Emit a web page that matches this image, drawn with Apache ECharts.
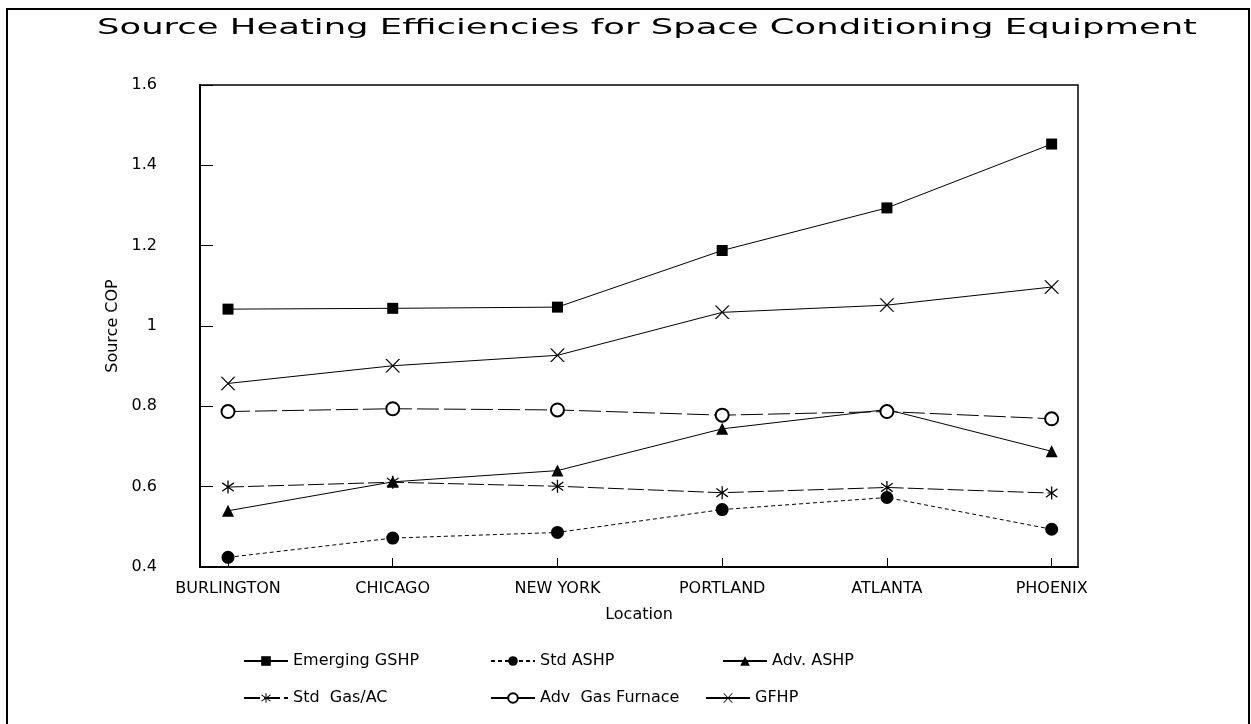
<!DOCTYPE html>
<html>
<head>
<meta charset="utf-8">
<script src="https://cdn.jsdelivr.net/npm/echarts@6/dist/echarts.min.js"></script>
<style>html,body{margin:0;padding:0;background:#fff}#c{width:1251px;height:724px}</style>
</head>
<body>
<div id="c"></div>
<script>
const titleText = 'Source Heating Efficiencies for Space Conditioning Equipment';
const categories = ['BURLINGTON', 'CHICAGO', 'NEW YORK', 'PORTLAND', 'ATLANTA', 'PHOENIX'];
const emergingGSHP = [1.042, 1.044, 1.047, 1.188, 1.294, 1.453];
const stdASHP = [0.424, 0.472, 0.486, 0.543, 0.573, 0.494];
const advASHP = [0.540, 0.612, 0.640, 0.744, 0.792, 0.688];
const stdGasAC = [0.599, 0.611, 0.601, 0.585, 0.598, 0.584];
const advGasFurnace = [0.787, 0.794, 0.791, 0.778, 0.787, 0.769];
const gfhp = [0.857, 0.901, 0.927, 1.034, 1.052, 1.097];
const seriesNames = ['Emerging GSHP', 'Std ASHP', 'Adv. ASHP', 'Std  Gas/AC', 'Adv  Gas Furnace', 'GFHP'];

const FONT = '"DejaVu Sans", sans-serif';
const X_PATH = 'path://M0,0 L2.2,0 L20,18 L17.8,18 Z M17.8,0 L20,0 L2.2,18 L0,18 Z';
const AST_PATH = 'path://M9,0 L11,0 L11,20 L9,20 Z M0.6,4.4 L1.6,2.7 L19.4,15.6 L18.4,17.3 Z M18.4,2.7 L19.4,4.4 L1.6,17.3 L0.6,15.6 Z';

const idx = categories.map((c, i) => i);
function pts(arr) { return arr.map((v, i) => [i, v]); }

const styles = [
  { data: emergingGSHP, symbol: 'rect', size: 11, type: 'solid' },
  { data: stdASHP, symbol: 'circle', size: 13, type: [4, 3] },
  { data: advASHP, symbol: 'triangle', size: 12, type: 'solid' },
  { data: stdGasAC, symbol: AST_PATH, size: 13, type: [16, 4] },
  { data: advGasFurnace, symbol: 'emptyCircle', size: 13, type: [22, 5] },
  { data: gfhp, symbol: X_PATH, size: 15, type: 'solid' }
];

const series = styles.map((s, k) => ({
  name: seriesNames[k],
  type: 'line',
  data: pts(s.data),
  symbol: s.symbol,
  symbolSize: s.size,
  symbolKeepAspect: true,
  showAllSymbol: true,
  lineStyle: { color: '#000', width: 1, type: s.type },
  itemStyle: { color: '#000', borderColor: '#000', borderWidth: s.symbol === 'emptyCircle' ? 1.2 : 0 },
  emphasis: { disabled: true },
  animation: false,
  z: 3
}));

const legendPos = [
  [243, 653], [490, 653], [722, 653],
  [243, 690], [490, 690], [705, 690]
];
const legends = seriesNames.map((n, k) => ({
  data: [n],
  left: legendPos[k][0],
  top: legendPos[k][1],
  padding: 0,
  itemWidth: 44,
  itemHeight: 12,
  itemGap: 0,
  selectedMode: false,
  textStyle: { fontFamily: FONT, fontSize: 16, color: '#000' }
}));

const titleFont = '21px "DejaVu Sans"';
const cv = document.createElement('canvas').getContext('2d');
cv.font = titleFont;
const tw = cv.measureText(titleText).width;
const titleScale = 1100 / tw;

const chart = echarts.init(document.getElementById('c'), null, { renderer: 'canvas' });
chart.setOption({
  backgroundColor: '#fff',
  animation: false,
  grid: { left: 200, right: 173, top: 85, bottom: 157, show: true, borderColor: '#000', borderWidth: 1.5, containLabel: false },
  xAxis: {
    type: 'value',
    min: -0.17,
    max: 5.16,
    name: 'Location',
    nameLocation: 'middle',
    nameGap: 40,
    nameTextStyle: { fontFamily: FONT, fontSize: 16, color: '#000' },
    axisLine: { show: true, onZero: false, lineStyle: { color: '#000', width: 2 } },
    axisTick: { show: true, inside: true, length: 9, customValues: idx, lineStyle: { color: '#000', width: 1 } },
    axisLabel: { customValues: idx, formatter: v => categories[v] || '', fontFamily: FONT, fontSize: 16, color: '#000', margin: 14 },
    splitLine: { show: false }
  },
  yAxis: {
    type: 'value',
    min: 0.4,
    max: 1.6,
    interval: 0.2,
    name: 'Source COP',
    nameLocation: 'middle',
    nameGap: 72,
    nameTextStyle: { fontFamily: FONT, fontSize: 16, color: '#000' },
    axisLine: { show: true, onZero: false, lineStyle: { color: '#000', width: 2 } },
    axisTick: { show: true, inside: true, length: 13, lineStyle: { color: '#000', width: 1 } },
    axisLabel: { fontFamily: FONT, fontSize: 16, color: '#000', margin: 43 },
    splitLine: { show: false }
  },
  legend: legends,
  graphic: [
    { type: 'rect', shape: { x: 7, y: 9, width: 1242, height: 740 }, style: { fill: 'none', stroke: '#000', lineWidth: 2 }, silent: true },
    { type: 'text', x: 97, y: 29, scaleX: titleScale, style: { text: titleText, font: titleFont, fill: '#000', align: 'left', verticalAlign: 'middle' }, silent: true }
  ],
  series: series
});
</script>
</body>
</html>
